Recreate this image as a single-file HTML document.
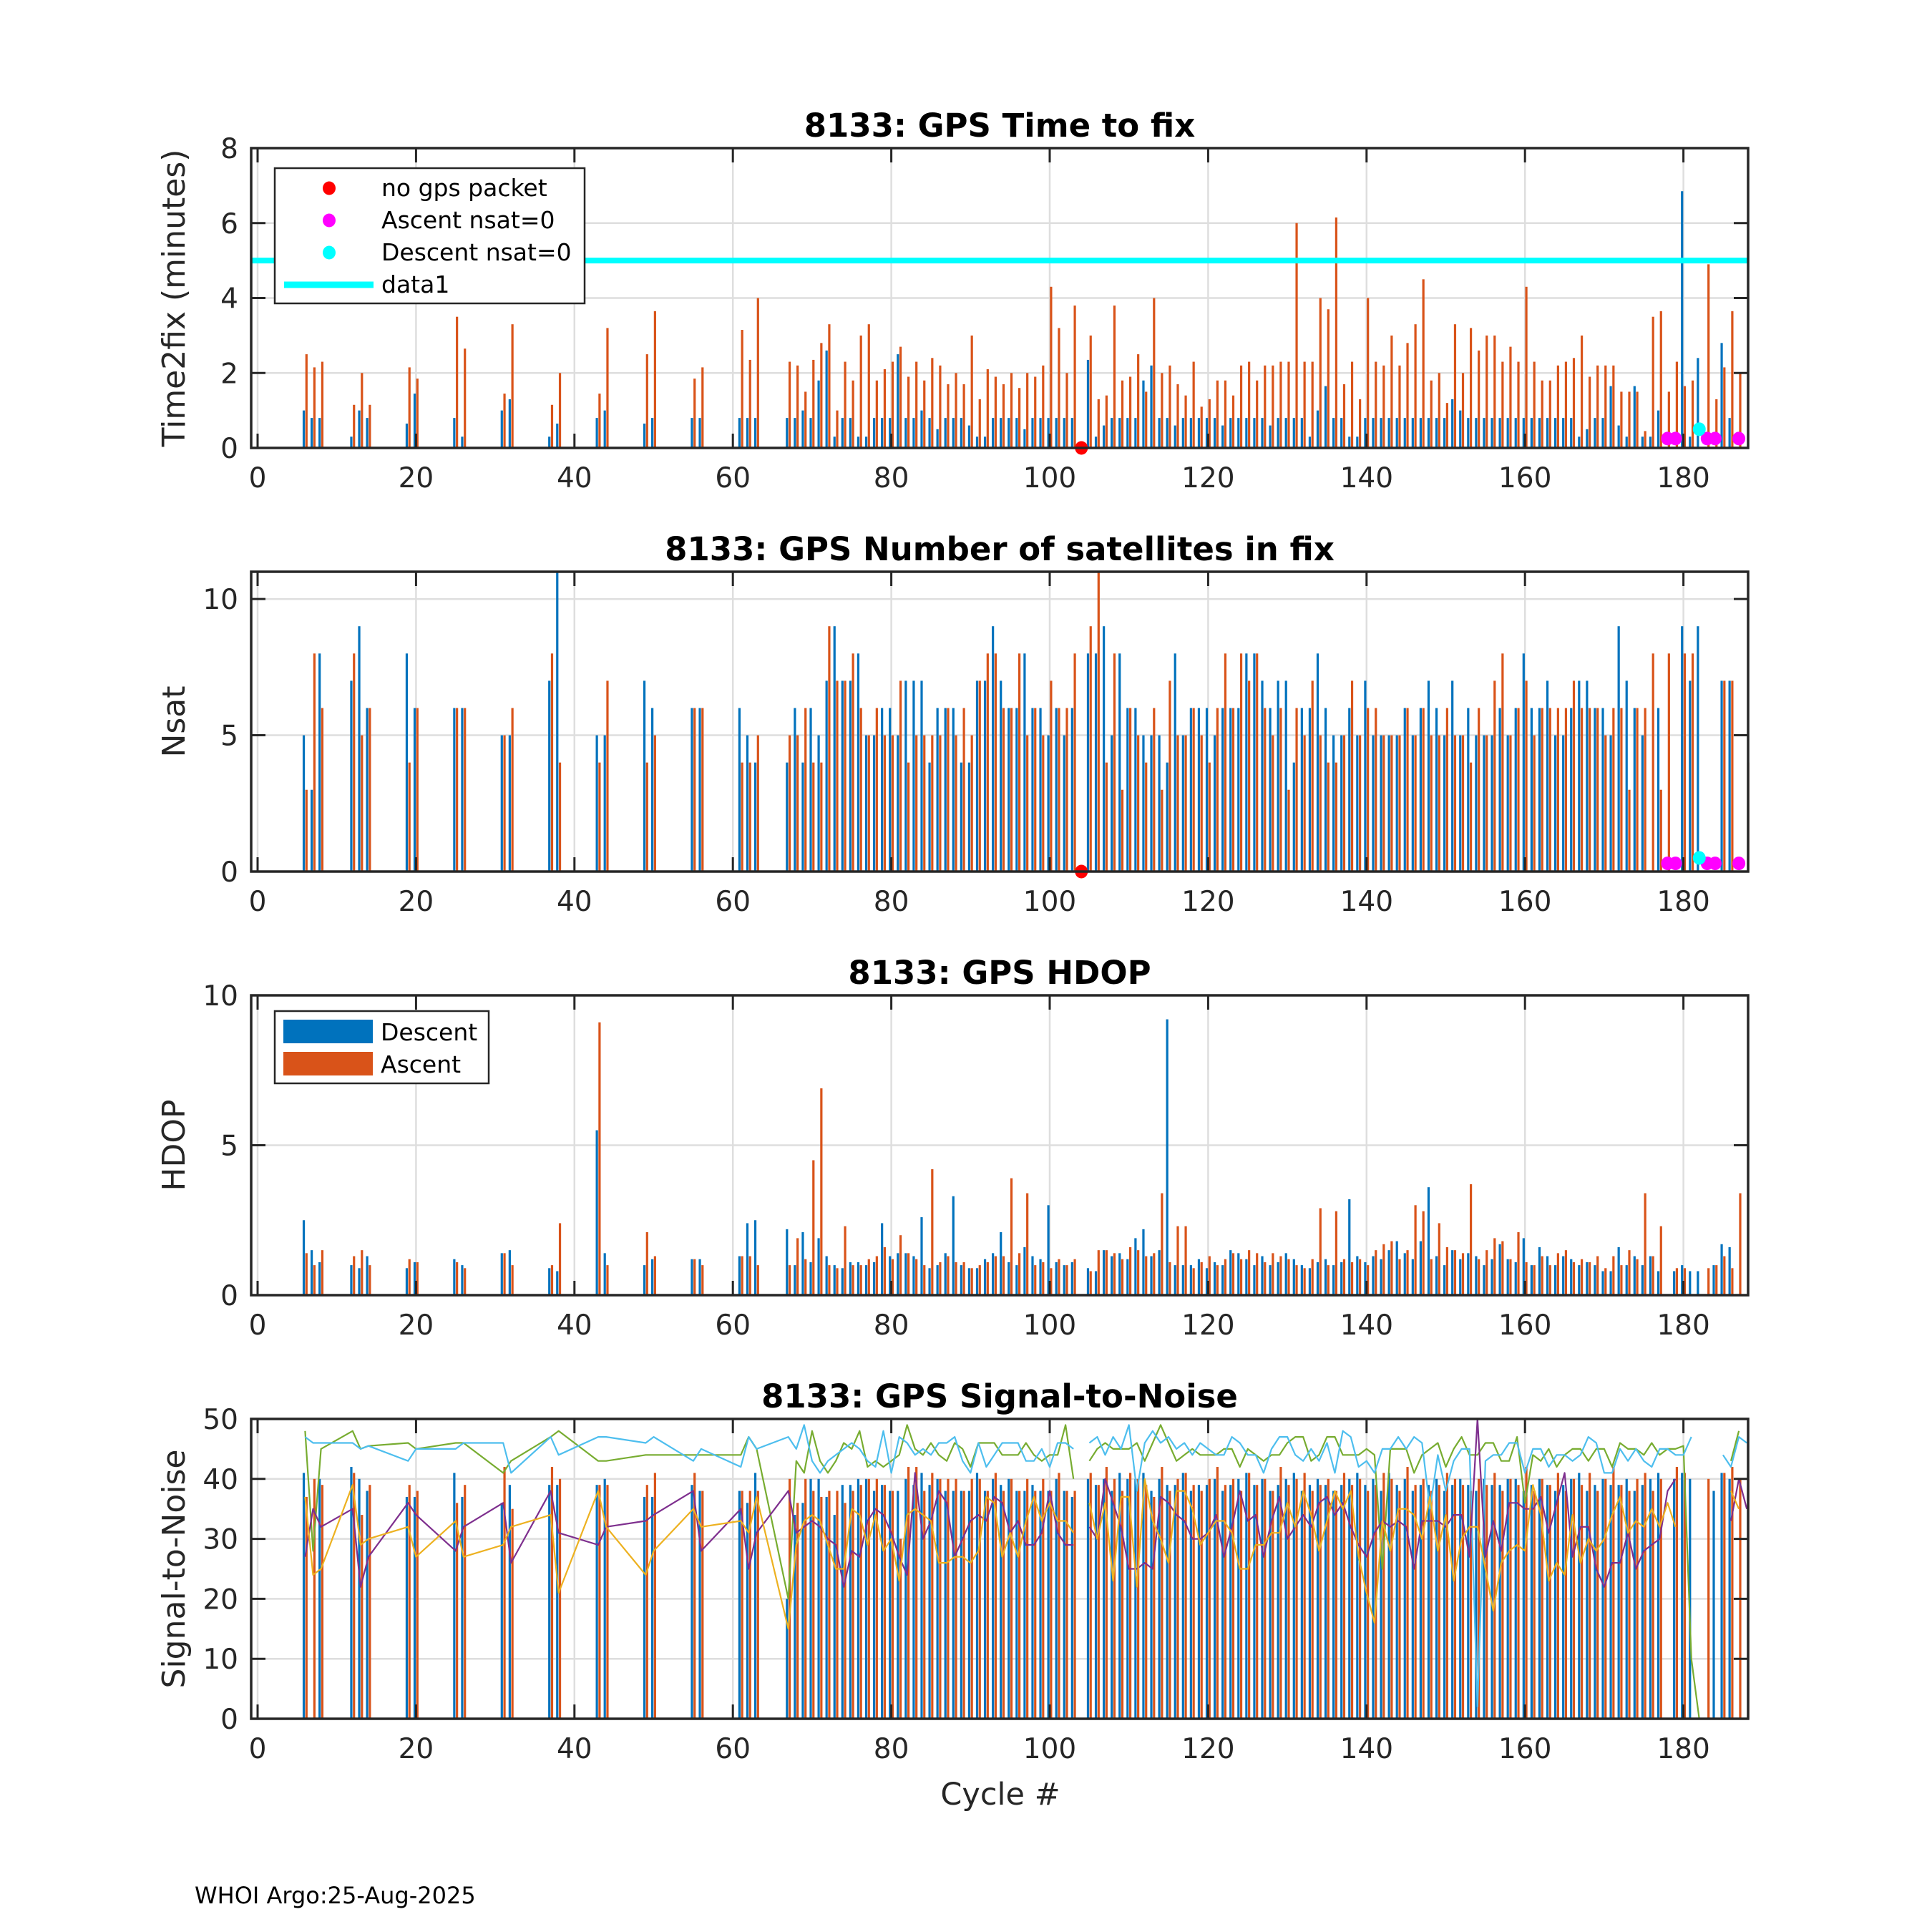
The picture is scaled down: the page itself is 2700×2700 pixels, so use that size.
<!DOCTYPE html>
<html><head><meta charset="utf-8"><title>8133 GPS diagnostics</title>
<style>
html,body{margin:0;padding:0;background:#fff;}
svg{display:block;font-family:"DejaVu Sans","Liberation Sans",sans-serif;}
</style></head>
<body>
<svg id="fig" xmlns="http://www.w3.org/2000/svg" width="2700" height="2700" viewBox="0 0 2700 2700">
<rect x="0" y="0" width="2700" height="2700" fill="#fff"/>
<text x="272" y="2660" font-size="32" fill="#000">WHOI Argo:25-Aug-2025</text>
<text x="1398" y="2522" font-size="43" fill="#262626" text-anchor="middle">Cycle #</text>
</svg>
<script>
// ---------- data ----------
const cycles = [6,7,8,12,13,14,19,20,25,26,31,32,37,38,43,44,49,50,55,56,61,62,63,
67,68,69,70,71,72,73,74,75,76,77,78,79,80,81,82,83,84,85,86,87,88,89,90,91,92,93,94,95,96,97,98,99,100,101,102,103,
105,106,107,108,109,110,111,112,113,114,115,116,117,118,119,120,121,122,123,124,125,126,127,128,129,130,131,132,133,134,
135,136,137,138,139,140,141,142,143,144,145,146,147,148,149,150,151,152,153,154,155,156,157,158,159,160,161,162,163,164,
165,166,167,168,169,170,171,172,173,174,175,176,177,178,179,180,181,182,183,184,185,186,187,188];

const t2fDescent = [1.0,0.8,0.8,0.3,1.0,0.8,0.65,1.45,0.8,0.3,1.0,1.3,0.3,0.65,0.8,1.0,0.65,0.8,0.8,0.8,0.8,0.8,0.8,
0.8,0.8,1.0,0.8,1.8,2.6,0.3,0.8,0.8,0.3,0.3,0.8,0.8,0.8,2.5,0.8,0.8,1.0,0.8,0.5,0.8,0.8,0.8,0.6,0.3,0.3,0.8,0.8,0.8,0.8,0.5,0.8,0.8,0.8,0.8,0.8,0.8,
2.35,0.3,0.6,0.8,0.8,0.8,0.8,1.8,2.2,0.8,0.8,0.6,0.8,0.8,0.8,0.8,0.8,0.6,0.8,0.8,0.8,0.8,0.8,0.6,0.8,0.8,0.8,0.8,0.3,1.0,
1.65,0.8,0.8,0.3,0.3,0.8,0.8,0.8,0.8,0.8,0.8,0.8,0.8,0.8,0.8,0.8,1.3,1.0,0.8,0.8,0.8,0.8,0.8,0.8,0.8,0.8,0.8,0.8,0.8,0.8,
0.8,0.8,0.3,0.5,0.8,0.8,1.65,0.6,0.3,1.65,0.3,0.3,1.0,null,null,6.85,0.3,2.4,null,null,2.8,0.8,null,null];
const t2fAscent = [2.5,2.15,2.3,1.15,2.0,1.15,2.15,1.85,3.5,2.65,1.45,3.3,1.15,2.0,1.45,3.2,2.5,3.65,1.85,2.15,3.15,2.35,4.0,
2.3,2.2,1.5,2.35,2.8,3.3,1.0,2.3,1.8,3.0,3.3,1.8,2.1,2.3,2.7,1.9,2.3,1.8,2.4,2.2,1.7,2.0,1.7,3.0,1.3,2.1,1.9,1.7,2.0,1.6,2.0,1.9,2.2,4.3,3.2,2.0,3.8,
3.0,1.3,1.4,3.8,1.8,1.9,2.5,1.5,4.0,2.0,2.2,1.7,1.4,2.3,1.1,1.3,1.8,1.8,1.4,2.2,2.3,1.8,2.2,2.2,2.3,2.3,6.0,2.3,2.3,4.0,
3.7,6.15,1.7,2.3,1.3,4.0,2.3,2.2,3.0,2.2,2.8,3.3,4.5,1.8,2.0,1.2,3.3,2.0,3.2,2.6,3.0,3.0,2.3,2.7,2.3,4.3,2.3,1.8,1.8,2.2,
2.3,2.4,3.0,1.9,2.2,2.2,2.2,1.5,1.5,1.5,0.45,3.5,3.65,1.5,2.3,1.65,1.8,null,4.9,1.3,2.15,3.65,2.0,null];

const nsatDescent = [5,3,8,7,9,6,8,6,6,6,5,5,7,11,5,5,7,6,6,6,6,5,4,
4,6,4,6,5,7,9,7,7,8,5,5,6,6,5,7,7,7,4,6,6,6,4,4,7,7,9,7,6,6,8,6,6,5,6,5,6,
8,8,9,5,8,6,6,5,5,5,4,8,5,6,6,6,5,6,6,6,8,8,7,6,7,7,4,6,6,8,
6,5,5,6,5,7,5,5,5,5,6,5,6,7,6,5,7,5,6,5,5,5,6,5,6,8,6,6,7,5,
5,6,7,7,6,6,5,9,7,6,5,null,6,null,null,9,7,9,null,null,7,7,null,null];
const nsatAscent = [3,8,6,8,5,6,4,6,6,6,5,6,8,4,4,7,4,5,6,6,4,4,5,
5,5,6,4,4,9,7,7,8,6,5,6,5,5,7,4,5,5,5,5,6,5,6,5,7,8,8,6,6,8,5,6,5,7,6,6,8,
9,11,4,8,3,6,5,4,6,3,7,5,5,6,5,4,6,8,6,8,7,8,6,5,6,3,6,5,7,5,
4,4,5,7,5,6,6,5,5,5,6,5,6,5,5,6,5,5,4,6,5,7,8,5,6,7,5,6,6,6,
6,7,6,6,6,5,6,6,3,6,6,8,3,8,null,8,8,null,null,null,7,7,null,4];
const nsatZeroAscentCycles = [178,179,183,184,187];
const nsatZeroAscentVal = [0.25,0.25,0.25,0.25,0.25];
const nsatZeroDescentCycles = [182];
const nsatZeroDescentVal = [0.5];
const noPacketCycles = [104];

const hdopDescent = [2.5,1.5,1.1,1.0,0.9,1.3,0.9,1.1,1.2,1.0,1.4,1.5,0.9,0.8,5.5,1.4,1.0,1.2,1.2,1.2,1.3,2.4,2.5,
2.2,1.0,2.1,1.1,1.9,1.3,1.0,0.9,1.1,1.1,1.0,1.1,2.4,1.3,1.4,1.4,1.3,2.6,0.9,1.0,1.4,3.3,1.0,0.9,0.9,1.2,1.4,2.1,1.1,1.0,1.6,1.3,1.2,3.0,1.1,1.0,1.1,
0.9,0.8,1.5,1.3,1.4,1.2,1.9,2.2,1.3,1.5,9.2,1.0,1.0,1.0,1.2,0.9,1.1,1.0,1.5,1.4,1.2,1.0,1.3,1.0,1.1,1.4,1.2,1.0,0.9,1.1,
1.2,1.0,1.1,3.2,1.3,1.1,1.3,1.2,1.5,1.8,1.4,1.2,1.8,3.6,1.3,1.0,1.5,1.2,1.4,1.3,1.0,1.2,1.7,1.2,1.1,1.9,1.0,1.6,1.3,1.0,
1.3,1.2,1.0,1.1,1.0,0.8,0.8,1.6,1.0,1.3,1.0,1.3,0.8,null,0.8,1.0,0.8,0.8,null,1.0,1.7,1.6,null,null];
const hdopAscent = [1.4,1.0,1.5,1.3,1.5,1.0,1.2,1.1,1.1,0.9,1.4,1.0,1.0,2.4,9.1,1.0,2.1,1.3,1.2,1.0,1.3,1.3,1.0,
1.0,1.9,1.2,4.5,6.9,1.0,0.9,2.3,1.0,1.0,1.2,1.3,1.6,1.2,2.0,1.4,1.2,1.0,4.2,1.1,1.3,1.1,1.1,0.9,1.0,1.1,1.3,1.3,3.9,1.4,3.4,1.0,1.1,0.9,1.2,1.0,1.2,
0.8,1.5,1.5,1.4,1.2,1.6,1.5,1.3,1.4,3.4,1.1,2.3,2.3,0.9,1.1,1.3,1.0,1.2,1.4,1.2,1.5,1.4,1.1,1.4,1.3,1.2,1.0,0.9,1.2,2.9,
1.0,2.8,1.2,1.1,1.2,1.0,1.5,1.7,1.8,1.2,1.5,3.0,2.8,1.2,2.4,1.6,1.5,1.4,3.7,1.2,1.5,1.9,1.8,1.2,2.1,1.1,1.0,1.3,1.0,1.4,
1.5,1.1,1.2,1.1,1.3,0.9,1.3,1.0,1.5,1.2,3.4,1.3,2.3,null,0.9,0.9,null,null,0.9,1.0,1.3,0.9,3.4,null];

const snrDescent = [41,null,40,42,40,38,37,37,41,37,36,39,39,39,39,40,37,37,39,38,38,36,41,
20,34,36,40,40,37,34,39,39,40,40,38,39,38,38,40,39,41,39,40,38,38,38,38,41,38,40,39,40,38,38,39,38,38,40,38,37,
40,39,40,38,41,40,40,41,38,40,39,39,41,38,39,39,40,38,39,40,41,39,40,38,39,40,41,38,39,40,
39,38,39,40,41,39,40,38,41,39,40,38,39,39,40,38,39,40,39,38,40,39,39,40,40,38,39,40,39,38,
39,40,41,38,39,40,39,39,40,38,39,40,41,null,40,41,40,null,null,38,41,40,null,null];
const snrAscent = [37,40,39,41,34,39,39,38,36,39,42,35,42,40,39,39,39,41,41,38,38,38,38,
40,36,40,38,37,38,38,36,38,39,40,40,39,38,30,42,42,38,41,40,40,40,38,40,40,38,41,38,40,38,40,38,40,38,41,38,38,
41,39,42,40,38,41,40,39,37,42,38,40,41,39,38,40,42,39,40,38,41,39,40,38,42,39,40,41,38,39,
40,38,41,39,40,38,39,41,40,38,42,39,40,38,39,41,40,39,38,40,39,41,38,40,39,42,38,40,39,41,
38,40,39,41,38,40,42,39,38,40,41,38,40,null,42,41,null,null,40,null,41,42,40,40];
const snrMaxGreen = [48,28,45,48,45,45.5,46,45,46,46,41,43,47,48,43,43,44,44,44,44,44,47,45,
20,43,41,48,43,41,43,46,45,48,42,43,42,43,44,49,45,44,46,44,43,46,45,42,46,46,46,44,44,44,46,44,43,44,44,49,40,
43,45,46,45,45,45,46,43,46,49,46,43,44,45,44,44,44,45,45,42,45,44,43,44,44,46,47,47,43,44,
47,47,44,44,44,45,44,25,45,45,45,41,44,45,46,42,45,47,44,44,46,46,43,43,47,36,44,43,45,42,
44,45,45,43,45,45,42,46,45,45,44,46,44,45,45,45.5,10,0,null,null,null,43,48,null];
const snrLightBlue = [47,46,46,46,45,45.5,43,45,45,46,46,41,47,44,47,47,46,47,43,45,42,47,45,
47,45,49,43,41,43,44,45,46,45,43,42,48,41,47,46,44,45,44,46,46,47,43,41,46,42,44,46,46,46,43,43,45,42,46,46,45,
46,47,44,47,45,49,38,46,48,46,47,45,46,44,46,45,44,44,47,46,44,44,41,45,47,47,44,43,45,43,
46,41,48,47,42,43,41,45,45,47,45,47,46,35,44,38,43,45,45,2,43,44,44,46,46,41,45,45,42,44,
44,43,44,47,46,41,41,45,43,45,43,42,45,45,44,44,47,null,null,null,44,42,47,46];
const snrPurple = [27,35,32,35,22,27,36,34,28,32,36,26,38,31,29,32,33,34,38,28,35,25,31,
38,31,32,33,32,30,29,22,28,27,33,35,34,31,27,24,41,30,33,38,36,27,30,33,34,33,37,36,31,33,29,29,31,38,31,29,29,
32,30,40,36,32,25,25,26,25,37,36,34,33,30,30,31,34,27,32,38,33,34,27,33,37,30,32,34,32,36,
37,34,36,32,29,27,31,33,32,33,32,25,33,33,33,32,34,34,27,50,27,33,28,36,36,35,35,37,31,36,
41,27,32,32,25,22,26,26,31,25,28,29,30,38,40,null,null,null,null,null,null,33,40,35];
const snrYellow = [37,24,25,39,29,30,32,27,33,27,29,32,34,21,38,32,24,28,35,32,33,31,37,
15,29,33,34,33,29,25,25,35,34,29,34,28,30,23,34,35,34,33,26,26,27,27,26,28,37,36,27,31,27,33,37,33,36,33,33,31,
36,30,36,23,37,37,22,40,33,30,26,38,38,35,29,31,33,33,31,25,25,29,29,31,31,36,32,38,34,28,
33,38,35,38,27,21,16,33,28,35,35,34,30,37,28,34,23,30,32,32,25,18,26,28,29,28,39,34,23,26,
24,34,26,30,28,30,34,37,31,33,32,35,32,36,32,null,null,null,null,null,null,38,35,null];

const xTicks = [0,20,40,60,80,100,120,140,160,180];
const yTicks1 = [0,2,4,6,8];
const yTicks2 = [0,5,10];
const yTicks3 = [0,5,10];
const yTicks4 = [0,10,20,30,40,50];
const threshold = [5];

// ---------- layout ----------
const NS='http://www.w3.org/2000/svg';
const svg=document.getElementById('fig');
const XL=351, XR=2443, X0=360, XU=11.07;
function xs(v){return X0+v*XU;}
const panels=[
 {top:207,bot:626,ymax:8,ticks:yTicks1,title:'8133: GPS Time to fix',ylab:'Time2fix (minutes)',key:'time2fix'},
 {top:799,bot:1218,ymax:11,ticks:yTicks2,title:'8133: GPS Number of satellites in fix',ylab:'Nsat',key:'nsat'},
 {top:1391,bot:1810,ymax:10,ticks:yTicks3,title:'8133: GPS HDOP',ylab:'HDOP',key:'hdop'},
 {top:1983,bot:2402,ymax:50,ticks:yTicks4,title:'8133: GPS Signal-to-Noise',ylab:'Signal-to-Noise',key:'snr'}
];
function mk(tag,attrs,parent){const e=document.createElementNS(NS,tag);for(const k in attrs)e.setAttribute(k,attrs[k]);(parent||svg).appendChild(e);return e;}
function ysFor(p){return v=>p.bot-(v/p.ymax)*(p.bot-p.top);}

panels.forEach((p,pi)=>{
 const g=mk('g',{});
 
 
 const ys=ysFor(p);
 xTicks.forEach(t=>{const l=mk('line',{x1:xs(t),x2:xs(t),y1:p.top,y2:p.bot,stroke:'#dedede','stroke-width':2.5},g);
  });
 p.ticks.forEach(t=>{const l=mk('line',{x1:XL,x2:XR,y1:ys(t),y2:ys(t),stroke:'#dedede','stroke-width':2.5},g);
  });
 p.g=g;p.ys=ys;
});

function bars(p,vals,off,color,name){
 cycles.forEach((c,i)=>{const v=vals[i]; if(v===null||v===undefined)return;
  const y=Math.max(p.ys(v),p.top);
  const r=mk('rect',{x:xs(c+off)-1.6,y:y,width:3.2,height:p.bot-y,fill:color},p.g);
  
  
 });
}
function line(p,vals,color,name,w){
 let d='',pen=false;
 cycles.forEach((c,i)=>{const v=vals[i];
  if(v===null||v===undefined){pen=false;return;}
  if(pen && c===105){pen=false;}
  d+=(pen?'L':'M')+xs(c).toFixed(1)+' '+Math.max(p.ys(v),p.top).toFixed(1);pen=true;});
 const e=mk('path',{d:d,fill:'none',stroke:color,'stroke-width':w||2.2,'stroke-linejoin':'round'},p.g);
 
 
}
function dots(p,cs,vs,color,name){
 cs.forEach((c,i)=>{const e=mk('ellipse',{cx:xs(c),cy:p.ys(vs[i]),rx:9,ry:9.5,fill:color},p.g);
  
  });
}
const BLUE='#0072BD',ORANGE='#D95319';
bars(panels[0],t2fDescent,-0.17,BLUE,'descent-time2fix-bar');
bars(panels[0],t2fAscent,0.17,ORANGE,'ascent-time2fix-bar');
threshold.forEach(t=>{const l=mk('line',{x1:XL,x2:XR,y1:panels[0].ys(t),y2:panels[0].ys(t),stroke:'#00FFFF','stroke-width':8},panels[0].g);
 });
dots(panels[0],noPacketCycles,[0],'#FF0000','no-gps-packet-marker');
dots(panels[0],nsatZeroAscentCycles,nsatZeroAscentVal,'#FF00FF','ascent-nsat0-marker');
dots(panels[0],nsatZeroDescentCycles,nsatZeroDescentVal,'#00FFFF','descent-nsat0-marker');
bars(panels[1],nsatDescent,-0.17,BLUE,'descent-nsat-bar');
bars(panels[1],nsatAscent,0.17,ORANGE,'ascent-nsat-bar');
dots(panels[1],noPacketCycles,[0],'#FF0000','no-gps-packet-marker');
dots(panels[1],nsatZeroAscentCycles,nsatZeroAscentVal.map(v=>v*1.2),'#FF00FF','ascent-nsat0-marker');
dots(panels[1],nsatZeroDescentCycles,nsatZeroDescentVal,'#00FFFF','descent-nsat0-marker');
bars(panels[2],hdopDescent,-0.17,BLUE,'descent-hdop-bar');
bars(panels[2],hdopAscent,0.17,ORANGE,'ascent-hdop-bar');
bars(panels[3],snrDescent,-0.17,BLUE,'descent-snr-bar');
bars(panels[3],snrAscent,0.17,ORANGE,'ascent-snr-bar');
line(panels[3],snrMaxGreen,'#77AC30','snr-green-line');
line(panels[3],snrLightBlue,'#4DBEEE','snr-lightblue-line');
line(panels[3],snrPurple,'#7E2F8E','snr-purple-line');
line(panels[3],snrYellow,'#EDB120','snr-yellow-line');

panels.forEach(p=>{
 const g=mk('g',{});
 
 
 const ys=p.ys;
 xTicks.forEach(t=>{
  mk('line',{x1:xs(t),x2:xs(t),y1:p.bot,y2:p.bot-20,stroke:'#262626','stroke-width':3},g);
  mk('line',{x1:xs(t),x2:xs(t),y1:p.top,y2:p.top+20,stroke:'#262626','stroke-width':3},g);
  const tx=mk('text',{x:xs(t),y:p.bot+55,'font-size':39,fill:'#262626','text-anchor':'middle'},g);
  tx.textContent=t;
  
  
 });
 p.ticks.forEach(t=>{
  mk('line',{x1:XL,x2:XL+20,y1:ys(t),y2:ys(t),stroke:'#262626','stroke-width':3},g);
  mk('line',{x1:XR,x2:XR-20,y1:ys(t),y2:ys(t),stroke:'#262626','stroke-width':3},g);
  const tx=mk('text',{x:XL-18,y:ys(t)+14,'font-size':39,fill:'#262626','text-anchor':'end'},g);
  tx.textContent=t;
  
  
 });
 const box=mk('rect',{x:XL,y:p.top,width:XR-XL,height:p.bot-p.top,fill:'none',stroke:'#262626','stroke-width':3.5},g);
 
 
 const ti=mk('text',{x:(XL+XR)/2,y:p.top-16,'font-size':45,'font-weight':'bold',fill:'#000','text-anchor':'middle'},g);
 ti.textContent=p.title;
 
 
 const cy=(p.top+p.bot)/2;
 const yl=mk('text',{x:0,y:0,'font-size':44,fill:'#262626','text-anchor':'middle',transform:'translate(258,'+cy+') rotate(-90)'},g);
 yl.textContent=p.ylab;
 
 
});

(function(){
 const g=mk('g',{});
 
 
 mk('rect',{x:384,y:235,width:433,height:189,fill:'#fff',stroke:'#262626','stroke-width':2.5},g);
 const items=[['no gps packet','#FF0000','dot'],['Ascent nsat=0','#FF00FF','dot'],['Descent nsat=0','#00FFFF','dot'],['data1','#00FFFF','line']];
 items.forEach((it,i)=>{const y=263+i*45;
  if(it[2]==='dot'){mk('ellipse',{cx:460,cy:y,rx:9,ry:9.5,fill:it[1]},g);}
  else{mk('line',{x1:397,x2:522,y1:y,y2:y,stroke:it[1],'stroke-width':9},g);}
  const t=mk('text',{x:533,y:y+11,'font-size':33,fill:'#000'},g);t.textContent=it[0];
  
  
 });
})();
(function(){
 const g=mk('g',{});
 
 
 mk('rect',{x:384,y:1413,width:299,height:101,fill:'#fff',stroke:'#262626','stroke-width':2.5},g);
 [['Descent',BLUE],['Ascent',ORANGE]].forEach((it,i)=>{const y=1425+i*45;
  mk('rect',{x:396,y:y,width:125,height:33,fill:it[1]},g);
  const t=mk('text',{x:532,y:y+29,'font-size':33,fill:'#000'},g);t.textContent=it[0];
  
  
 });
})();
</script>
</body></html>
